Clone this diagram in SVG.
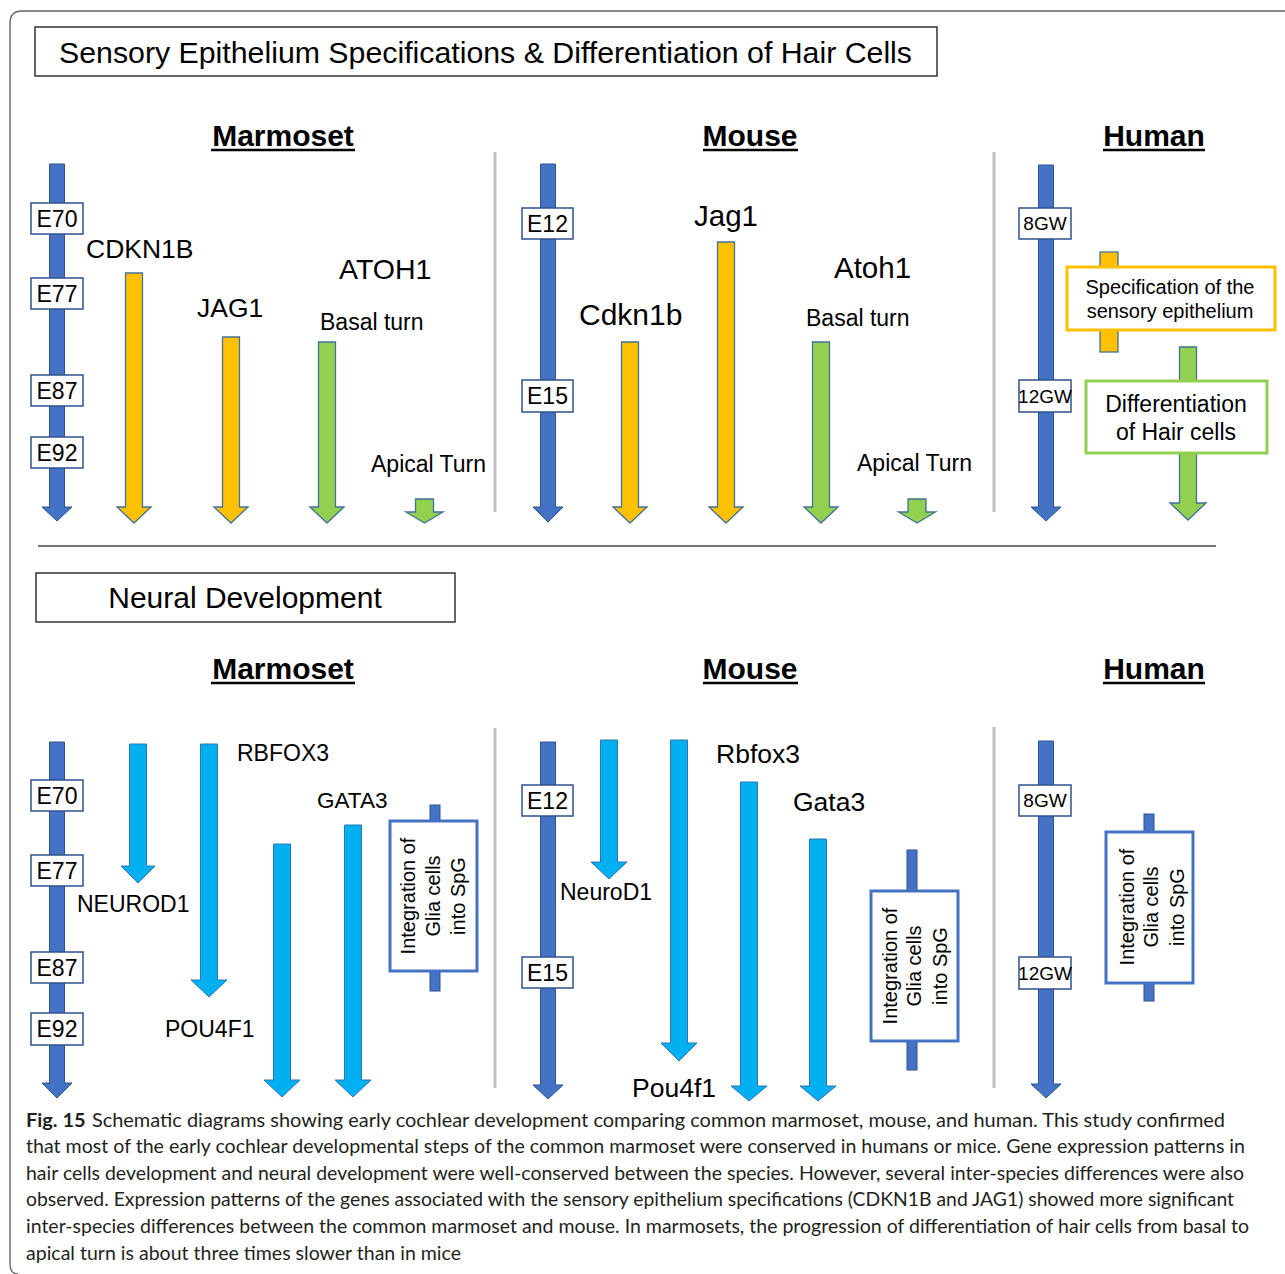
<svg xmlns="http://www.w3.org/2000/svg" width="1285" height="1274" viewBox="0 0 1285 1274">
<style>
text{font-family:"Liberation Sans",Arial,sans-serif;fill:#000}
.hdr{font-size:30px;font-weight:bold;text-anchor:middle}
.ul{stroke:#000;stroke-width:2.5}
.sep{stroke:#BFBFBF;stroke-width:3}
.tl{fill:#4472C4;stroke:#2F528F;stroke-width:1}
.or{fill:#FFC000;stroke:#41719C;stroke-width:1.3}
.gr{fill:#92D050;stroke:#41719C;stroke-width:1.3}
.lb{fill:#00B0F0;stroke:#2E75B6;stroke-width:1}
.tag{fill:#fff;stroke:#2F528F;stroke-width:1.5}
.tagt{font-size:23px;text-anchor:middle}
.gw{font-size:19px;text-anchor:middle}
.bar{fill:#4472C4;stroke:#2F528F;stroke-width:1}
.ibox{fill:#fff;stroke:#4472C4;stroke-width:3}
.itx{font-size:20px;text-anchor:middle}
.cap{font-family:Lato,"Open Sans",sans-serif;font-size:19px;fill:#231F20}
</style>

<path d="M1285,11 H22 Q10,11 10,23 V1264 Q10,1274 18,1274" fill="none" stroke="#666" stroke-width="1.4"/>

<g id="title1">
<rect x="35" y="27" width="902" height="49" fill="#fff" stroke="#333" stroke-width="1.5"/>
<text x="59" y="63" font-size="30.3" textLength="853" lengthAdjust="spacingAndGlyphs">Sensory Epithelium Specifications &amp; Differentiation of Hair Cells</text>
</g>

<g id="headers-top">
<text class="hdr" x="283" y="146">Marmoset</text>
<line class="ul" x1="211" y1="150" x2="355" y2="150"/>
<text class="hdr" x="750" y="146">Mouse</text>
<line class="ul" x1="703" y1="150" x2="798" y2="150"/>
<text class="hdr" x="1154" y="146">Human</text>
<line class="ul" x1="1103" y1="150" x2="1205" y2="150"/>
</g>

<g id="separators">
<line class="sep" x1="495" y1="152" x2="495" y2="512"/>
<line class="sep" x1="994" y1="152" x2="994" y2="512"/>
<line class="sep" x1="495" y1="728" x2="495" y2="1088"/>
<line class="sep" x1="994" y1="727" x2="994" y2="1088"/>
<line x1="38" y1="546" x2="1216" y2="546" stroke="#444" stroke-width="1.5"/>
</g>

<g id="connectors">
<!-- top marmoset -->
<path class="tl" d="M49.5,164 H64.5 V507 H72 L57,521 L42,507 H49.5 Z"/>
<path class="or" d="M125.5,273 H142.5 V507 H151 L134,523 L117,507 H125.5 Z"/>
<path class="or" d="M222.5,337 H239.5 V507 H248 L231,523 L214,507 H222.5 Z"/>
<path class="gr" d="M318.5,342 H335.5 V507 H344 L327,523 L310,507 H318.5 Z"/>
<path class="gr" d="M415.5,499 H433.5 V512 H443 L424.5,523 L406,512 H415.5 Z"/>
<!-- top mouse -->
<path class="tl" d="M540.5,164 H555.5 V507 H563 L548,522 L533,507 H540.5 Z"/>
<path class="or" d="M621.5,342 H638.5 V507 H647 L630,523 L613,507 H621.5 Z"/>
<path class="or" d="M717.5,242 H734.5 V507 H743 L726,523 L709,507 H717.5 Z"/>
<path class="gr" d="M812.5,342 H829.5 V507 H838 L821,523 L804,507 H812.5 Z"/>
<path class="gr" d="M908,499 H926 V512 H935.5 L917,523 L898.5,512 H908 Z"/>
<!-- top human -->
<path class="tl" d="M1038.5,165 H1053.5 V507 H1061 L1046,521 L1031,507 H1038.5 Z"/>
<rect class="or" x="1100" y="252" width="18" height="100"/>
<path class="gr" d="M1179.5,347 H1196.5 V503 H1206 L1188,520 L1170,503 H1179.5 Z"/>
<!-- bottom marmoset -->
<path class="tl" d="M49.5,742 H64.5 V1083 H72 L57,1098 L42,1083 H49.5 Z"/>
<path class="lb" d="M129.5,744 H146.5 V866 H155 L138,883 L121,866 H129.5 Z"/>
<path class="lb" d="M200.5,744 H217.5 V980 H227 L209,997 L191,980 H200.5 Z"/>
<path class="lb" d="M273.5,844 H290.5 V1080 H300 L282,1097 L264,1080 H273.5 Z"/>
<path class="lb" d="M344.5,825 H361.5 V1080 H371 L353,1097 L335,1080 H344.5 Z"/>
<rect class="bar" x="430" y="805" width="10" height="186"/>
<!-- bottom mouse -->
<path class="tl" d="M540.5,742 H555.5 V1085 H563 L548,1099 L533,1085 H540.5 Z"/>
<path class="lb" d="M600.5,740 H617.5 V862 H627 L609,879 L591,862 H600.5 Z"/>
<path class="lb" d="M670.5,740 H687.5 V1043 H697 L679,1061 L661,1043 H670.5 Z"/>
<path class="lb" d="M740.5,782 H757.5 V1086 H767 L749,1101 L731,1086 H740.5 Z"/>
<path class="lb" d="M809.5,839 H826.5 V1086 H836 L818,1101 L800,1086 H809.5 Z"/>
<rect class="bar" x="907" y="850" width="10" height="220"/>
<!-- bottom human -->
<path class="tl" d="M1038.5,741 H1053.5 V1084 H1061 L1046,1098 L1031,1084 H1038.5 Z"/>
<rect class="bar" x="1144" y="814" width="10" height="187"/>
</g>

<g id="marmoset-top-tags">
<rect class="tag" x="31" y="203" width="52" height="31"/><text class="tagt" x="57" y="227">E70</text>
<rect class="tag" x="31" y="278" width="52" height="31"/><text class="tagt" x="57" y="302">E77</text>
<rect class="tag" x="31" y="375" width="52" height="31"/><text class="tagt" x="57" y="399">E87</text>
<rect class="tag" x="31" y="437" width="52" height="31"/><text class="tagt" x="57" y="461">E92</text>
</g>
<g id="marmoset-top-labels">
<text x="86" y="258" font-size="26.5">CDKN1B</text>
<text x="197" y="317" font-size="26.5">JAG1</text>
<text x="339" y="279" font-size="28.5">ATOH1</text>
<text x="320" y="330" font-size="23">Basal turn</text>
<text x="371" y="472" font-size="23">Apical Turn</text>
</g>

<g id="mouse-top-tags">
<rect class="tag" x="522" y="208" width="51" height="31"/><text class="tagt" x="547.5" y="232">E12</text>
<rect class="tag" x="522" y="380" width="51" height="32"/><text class="tagt" x="547.5" y="404">E15</text>
</g>
<g id="mouse-top-labels">
<text x="579" y="325" font-size="30">Cdkn1b</text>
<text x="694" y="226" font-size="29.5">Jag1</text>
<text x="834" y="278" font-size="29.5">Atoh1</text>
<text x="806" y="326" font-size="23">Basal turn</text>
<text x="857" y="471" font-size="23">Apical Turn</text>
</g>

<g id="human-top">
<rect class="tag" x="1019" y="208" width="52" height="31"/><text class="gw" x="1045" y="230">8GW</text>
<rect class="tag" x="1019" y="380" width="52" height="32"/><text class="gw" x="1045" y="403">12GW</text>
</g>
<g id="human-spec">
<rect x="1067" y="267" width="208" height="63" fill="#fff" stroke="#FFC000" stroke-width="3"/>
<text x="1170" y="294" font-size="20" text-anchor="middle">Specification of the</text>
<text x="1170" y="318" font-size="20" text-anchor="middle">sensory epithelium</text>
</g>
<g id="human-diff">
<rect x="1086" y="381" width="181" height="72" fill="#fff" stroke="#92D050" stroke-width="3"/>
<text x="1176" y="412" font-size="23" text-anchor="middle">Differentiation</text>
<text x="1176" y="440" font-size="23" text-anchor="middle">of Hair cells</text>
</g>

<g id="title2">
<rect x="36" y="573" width="419" height="49" fill="#fff" stroke="#333" stroke-width="1.5"/>
<text x="245" y="608" font-size="30" text-anchor="middle">Neural Development</text>
</g>

<g id="headers-bottom">
<text class="hdr" x="283" y="679">Marmoset</text>
<line class="ul" x1="211" y1="683" x2="355" y2="683"/>
<text class="hdr" x="750" y="679">Mouse</text>
<line class="ul" x1="703" y1="683" x2="798" y2="683"/>
<text class="hdr" x="1154" y="679">Human</text>
<line class="ul" x1="1103" y1="683" x2="1205" y2="683"/>
</g>

<g id="marmoset-bottom-tags">
<rect class="tag" x="31" y="780" width="52" height="31"/><text class="tagt" x="57" y="804">E70</text>
<rect class="tag" x="31" y="855" width="52" height="31"/><text class="tagt" x="57" y="879">E77</text>
<rect class="tag" x="31" y="952" width="52" height="31"/><text class="tagt" x="57" y="976">E87</text>
<rect class="tag" x="31" y="1013" width="52" height="32"/><text class="tagt" x="57" y="1037">E92</text>
</g>
<g id="marmoset-bottom-labels">
<text x="77" y="912" font-size="23">NEUROD1</text>
<text x="237" y="761" font-size="23">RBFOX3</text>
<text x="317" y="808" font-size="22.5">GATA3</text>
<text x="165" y="1037" font-size="23">POU4F1</text>
</g>
<g id="marmoset-glia">
<rect class="ibox" x="390" y="821" width="87" height="150"/>
<text class="itx" transform="translate(433,896) rotate(-90)"><tspan x="0" y="-18">Integration of</tspan><tspan x="0" y="7">Glia cells</tspan><tspan x="0" y="32">into SpG</tspan></text>
</g>

<g id="mouse-bottom-tags">
<rect class="tag" x="522" y="785" width="51" height="31"/><text class="tagt" x="547.5" y="809">E12</text>
<rect class="tag" x="522" y="957" width="51" height="31"/><text class="tagt" x="547.5" y="981">E15</text>
</g>
<g id="mouse-bottom-labels">
<text x="560" y="900" font-size="23">NeuroD1</text>
<text x="716" y="763" font-size="26.5">Rbfox3</text>
<text x="793" y="811" font-size="26.5">Gata3</text>
<text x="632" y="1097" font-size="26.5">Pou4f1</text>
</g>
<g id="mouse-glia">
<rect class="ibox" x="871" y="891" width="87" height="150"/>
<text class="itx" transform="translate(914,966) rotate(-90)"><tspan x="0" y="-17">Integration of</tspan><tspan x="0" y="7">Glia cells</tspan><tspan x="0" y="33">into SpG</tspan></text>
</g>

<g id="human-bottom">
<rect class="tag" x="1019" y="785" width="52" height="31"/><text class="gw" x="1045" y="807">8GW</text>
<rect class="tag" x="1019" y="957" width="52" height="32"/><text class="gw" x="1045" y="980">12GW</text>
</g>
<g id="human-glia">
<rect class="ibox" x="1106" y="832" width="87" height="151"/>
<text class="itx" transform="translate(1150,907) rotate(-90)"><tspan x="0" y="-16">Integration of</tspan><tspan x="0" y="8">Glia cells</tspan><tspan x="0" y="34">into SpG</tspan></text>
</g>

<g id="caption">
<text class="cap" x="26" y="1127" textLength="1199" lengthAdjust="spacingAndGlyphs"><tspan font-weight="bold">Fig. 15</tspan><tspan dx="6">Schematic diagrams showing early cochlear development comparing common marmoset, mouse, and human. This study confirmed</tspan></text>
<text class="cap" x="26" y="1153" textLength="1219" lengthAdjust="spacingAndGlyphs">that most of the early cochlear developmental steps of the common marmoset were conserved in humans or mice. Gene expression patterns in</text>
<text class="cap" x="26" y="1180" textLength="1218" lengthAdjust="spacingAndGlyphs">hair cells development and neural development were well-conserved between the species. However, several inter-species differences were also</text>
<text class="cap" x="26" y="1206" textLength="1208" lengthAdjust="spacingAndGlyphs">observed. Expression patterns of the genes associated with the sensory epithelium specifications (CDKN1B and JAG1) showed more significant</text>
<text class="cap" x="26" y="1233" textLength="1223" lengthAdjust="spacingAndGlyphs">inter-species differences between the common marmoset and mouse. In marmosets, the progression of differentiation of hair cells from basal to</text>
<text class="cap" x="26" y="1260" textLength="435" lengthAdjust="spacingAndGlyphs">apical turn is about three times slower than in mice</text>
</g>
</svg>
